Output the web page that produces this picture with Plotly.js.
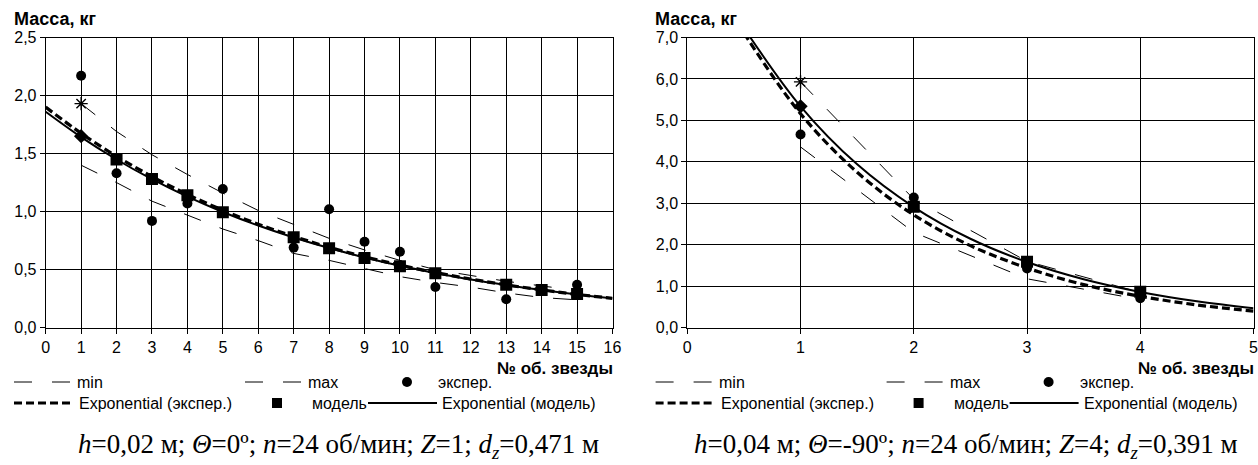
<!DOCTYPE html>
<html>
<head>
<meta charset="utf-8">
<script src="https://cdn.plot.ly/plotly-3.0.1.min.js"></script>
<style>
html,body{margin:0;padding:0;background:#fff;}
#chart{width:1258px;height:465px;}
</style>
</head>
<body>
<div id="chart"></div>
<script>
// ---------------- DATA ----------------
// Left chart: h=0,02 м; Θ=0º; n=24 об/мин; Z=1; dz=0,471 м
const leftStarNo = [1,2,3,4,5,6,7,8,9,10,11,12,13,14,15];
const leftMin    = [1.40,1.25,1.09,0.97,0.85,0.75,0.64,0.58,0.51,0.44,0.39,0.35,0.30,0.26,0.24];
const leftMax    = [1.93,1.69,1.49,1.32,1.16,1.01,0.89,0.77,0.67,0.58,0.50,0.45,0.40,0.36,0.32];
const leftExpStarNo   = [1,2,3,4,5,7,8,9,10,11,13,15];
const leftExpMass     = [2.17,1.33,0.92,1.07,1.195,0.69,1.02,0.74,0.655,0.35,0.245,0.37];
const leftModelStarNo = [1,2,3,4,5,7,8,9,10,11,13,14,15];
const leftModelMass   = [1.65,1.45,1.28,1.14,0.995,0.78,0.685,0.60,0.53,0.47,0.37,0.325,0.29];
const leftTrendStarNo = [0,1,2,3,4,5,6,7,8,9,10,11,12,13,14,15,16];
const leftTrendExp    = [1.90,1.675,1.477,1.302,1.148,1.012,0.892,0.787,0.693,0.611,0.539,0.475,0.419,0.369,0.326,0.287,0.253];
const leftTrendModel  = [1.86,1.642,1.449,1.279,1.129,0.997,0.880,0.777,0.686,0.605,0.534,0.472,0.416,0.368,0.324,0.286,0.253];

// Right chart: h=0,04 м; Θ=-90º; n=24 об/мин; Z=4; dz=0,391 м
const rightStarNo = [1,2,3,4];
const rightMin    = [4.36,2.30,1.18,0.68];
const rightMax    = [5.93,3.10,1.60,0.85];
const rightExpMass   = [4.66,3.14,1.43,0.71];
const rightModelMass = [5.34,2.92,1.59,0.87];
const rightTrendStarNo = [0.5,1,1.5,2,2.5,3,3.5,4,4.5,5];
const rightTrendExp    = [7.11,5.16,3.75,2.72,1.98,1.44,1.04,0.758,0.55,0.40];
const rightTrendModel  = [7.23,5.34,3.94,2.91,2.145,1.584,1.169,0.863,0.637,0.470];

// Ticks
const leftXTicks  = [0,1,2,3,4,5,6,7,8,9,10,11,12,13,14,15,16];
const leftYTicks  = [0,0.5,1.0,1.5,2.0,2.5];
const rightXTicks = [0,1,2,3,4,5];
const rightYTicks = [0,1,2,3,4,5,6,7];

// Texts
const yTitle = 'Масса, кг';
const xTitle = '№ об. звезды';
const legendLabels = ['min','max','экспер.','Exponential (экспер.)','модель','Exponential (модель)'];
const captionLeft  = '<i>h</i>=0,02 м; <i>Θ</i>=0º; <i>n</i>=24 об/мин; <i>Z</i>=1; <i>d<sub>z</sub></i>=0,471 м';
const captionRight = '<i>h</i>=0,04 м; <i>Θ</i>=-90º; <i>n</i>=24 об/мин; <i>Z</i>=4; <i>d<sub>z</sub></i>=0,391 м';

// ---------------- LAYOUT HELPERS ----------------
const W = 1258, H = 465;
const PX = x => x / W;
const PY = y => 1 - y / H;
const SANS = 'Liberation Sans, Arial, sans-serif';
const SERIF = 'Liberation Serif, Times New Roman, serif';
const fmt = v => v.toFixed(1).replace('.', ',');

const MINMAX_DASH = '18px,20px';
const EXP_DASH = '8px,4px';

function makeTraces(xa, ya, xs, mn, mx, ex, exX, md, mdX, tX, tE, tM) {
  const maxSym = mx.map((v, i) => i === 0 ? 'asterisk-open' : 'circle');
  const maxSize = mx.map((v, i) => i === 0 ? 11 : 0);
  const mdSym = md.map((v, i) => i === 0 ? 'diamond' : 'square');
  const mdSize = md.map((v, i) => i === 0 ? 11 : 12);
  return [
    {x: xs, y: mn, xaxis: xa, yaxis: ya, type: 'scatter', mode: 'lines', name: 'min',
     line: {color: '#000', width: 1, dash: MINMAX_DASH}, hoverinfo: 'skip'},
    {x: xs, y: mx, xaxis: xa, yaxis: ya, type: 'scatter', mode: 'lines+markers', name: 'max',
     line: {color: '#000', width: 1, dash: MINMAX_DASH},
     marker: {symbol: maxSym, size: maxSize, color: '#000', opacity: 1, line: {color: '#000', width: 1.4}}, hoverinfo: 'skip'},
    {x: exX, y: ex, xaxis: xa, yaxis: ya, type: 'scatter', mode: 'markers', name: 'экспер.',
     marker: {symbol: 'circle', size: 10, color: '#000', opacity: 1, line: {width: 0}}, hoverinfo: 'skip'},
    {x: mdX, y: md, xaxis: xa, yaxis: ya, type: 'scatter', mode: 'markers', name: 'модель',
     marker: {symbol: mdSym, size: mdSize, color: '#000', opacity: 1, line: {width: 0}}, hoverinfo: 'skip'},
    {x: tX, y: tE, xaxis: xa, yaxis: ya, type: 'scatter', mode: 'lines', name: 'Exponential (экспер.)',
     line: {color: '#000', width: 3.2, dash: EXP_DASH, shape: 'spline', smoothing: 1}, hoverinfo: 'skip'},
    {x: tX, y: tM, xaxis: xa, yaxis: ya, type: 'scatter', mode: 'lines', name: 'Exponential (модель)',
     line: {color: '#000', width: 2, shape: 'spline', smoothing: 1}, hoverinfo: 'skip'}
  ];
}

const data = [].concat(
  makeTraces('x', 'y', leftStarNo, leftMin, leftMax, leftExpMass, leftExpStarNo,
             leftModelMass, leftModelStarNo, leftTrendStarNo, leftTrendExp, leftTrendModel),
  makeTraces('x2', 'y2', rightStarNo, rightMin, rightMax, rightExpMass, rightStarNo,
             rightModelMass, rightStarNo, rightTrendStarNo, rightTrendExp, rightTrendModel)
);

// plot-area pixel geometry
const plotTop = 37.5, plotBottom = 327.7;
const leftX0 = 45.7, leftX1 = 612.5;
const rightX0 = 687.3, rightX1 = 1253.5;
const yDomain = [PY(plotBottom), PY(plotTop)];

function axisX(domain, range, ticks, anchor) {
  return {
    domain: domain, range: range, anchor: anchor,
    tickmode: 'array', tickvals: ticks, ticktext: ticks.map(String),
    showgrid: true, gridcolor: '#000', gridwidth: 1,
    showline: true, linecolor: '#000', linewidth: 1, mirror: true,
    ticks: 'outside', ticklen: 5, tickcolor: '#000', tickwidth: 1,
    ticklabeloverflow: 'allow',
    tickfont: {family: SANS, size: 16, color: '#000'},
    zeroline: false, fixedrange: true
  };
}
function axisY(range, ticks, anchor) {
  return {
    domain: yDomain, range: range, anchor: anchor,
    tickmode: 'array', tickvals: ticks, ticktext: ticks.map(fmt),
    showgrid: true, gridcolor: '#000', gridwidth: 1,
    showline: true, linecolor: '#000', linewidth: 1, mirror: true,
    ticks: 'outside', ticklen: 5, tickcolor: '#000', tickwidth: 1,
    ticklabeloverflow: 'allow',
    tickfont: {family: SANS, size: 16, color: '#000'},
    zeroline: false, fixedrange: true
  };
}

const shapes = [];
const annotations = [];

function txt(text, x, y, opts) {
  annotations.push(Object.assign({
    text: text, x: PX(x), y: PY(y), xref: 'paper', yref: 'paper',
    xanchor: 'left', yanchor: 'middle', showarrow: false,
    font: {family: SANS, size: 16, color: '#000'}
  }, opts || {}));
}
function hline(x0, x1, y, width, dash) {
  shapes.push({type: 'line', xref: 'paper', yref: 'paper',
    x0: PX(x0), x1: PX(x1), y0: PY(y), y1: PY(y),
    line: {color: '#000', width: width, dash: dash || 'solid'}});
}

function decorate(off, plotLeft, plotRight, caption, capX) {
  // axis titles
  txt('<b>' + yTitle + '</b>', plotLeft - 34, 19, {font: {family: SANS, size: 18, color: '#000'}});
  txt('<b>' + xTitle + '</b>', plotRight + 2, 368, {xanchor: 'right', font: {family: SANS, size: 17, color: '#000'}});
  // legend row 1
  const r1 = 382, r2 = 403;
  hline(off + 14, off + 71, r1, 1, MINMAX_DASH);
  txt(legendLabels[0], off + 75, r1);
  hline(off + 245, off + 302, r1, 1, MINMAX_DASH);
  txt(legendLabels[1], off + 306, r1);
  shapes.push({type: 'circle', xref: 'paper', yref: 'paper', fillcolor: '#000',
    line: {color: '#000', width: 0},
    x0: PX(off + 402), x1: PX(off + 412), y0: PY(r1 + 5), y1: PY(r1 - 5)});
  txt(legendLabels[2], off + 436, r1);
  // legend row 2
  hline(off + 14, off + 73, r2, 3.2, EXP_DASH);
  txt(legendLabels[3], off + 77, r2);
  shapes.push({type: 'rect', xref: 'paper', yref: 'paper', fillcolor: '#000',
    line: {color: '#000', width: 0},
    x0: PX(off + 272), x1: PX(off + 282), y0: PY(r2 + 5), y1: PY(r2 - 5)});
  txt(legendLabels[4], off + 310, r2);
  hline(off + 368, off + 437, r2, 2, 'solid');
  txt(legendLabels[5], off + 440, r2);
  // caption
  txt(caption, capX, 446, {xanchor: 'center', font: {family: SERIF, size: 27, color: '#000'}});
}

decorate(0, leftX0, leftX1, captionLeft, 338);
decorate(641.6, rightX0, rightX1, captionRight, 966);

const layout = {
  width: W, height: H,
  margin: {l: 0, r: 0, t: 0, b: 0, pad: 0},
  paper_bgcolor: '#fff', plot_bgcolor: '#fff',
  showlegend: false,
  font: {family: SANS, color: '#000'},
  xaxis: axisX([PX(leftX0), PX(leftX1)], [0, 16], leftXTicks, 'y'),
  yaxis: axisY([0, 2.5], leftYTicks, 'x'),
  xaxis2: axisX([PX(rightX0), PX(rightX1)], [0, 5], rightXTicks, 'y2'),
  yaxis2: axisY([0, 7], rightYTicks, 'x2'),
  shapes: shapes,
  annotations: annotations
};

Plotly.newPlot('chart', data, layout, {staticPlot: true, displayModeBar: false});
</script>
</body>
</html>
